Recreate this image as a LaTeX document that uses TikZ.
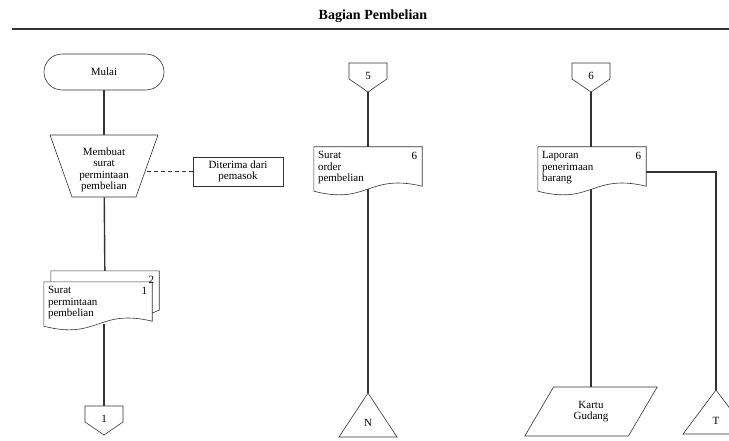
\documentclass[tikz,border=0pt]{standalone}
\usepackage{fontspec}
\setmainfont{Liberation Serif}
\usetikzlibrary{positioning, shapes.geometric, calc}

% outline of a document symbol around a named node
\newcommand{\docpath}[1]{(#1.north west) -- (#1.north east) -- ($(#1.south east)+(0,-3)$)
  .. controls ($(#1.south)+(0,-16)$) and ($(#1.south)+(0,16)$) .. ($(#1.south west)+(0,2)$) -- cycle}
% off-page connector: name, x, top y, label
\newcommand{\offpagesym}[4]{
  \coordinate (#1) at (#2,#3);
  \coordinate (#1-tip) at (#2,#3+29);
  \draw[outline] (#1) -- ++(19,0) -- ++(0,16) -- (#1-tip) -- ++(-19,-13) -- ++(0,-16) -- cycle;
  \node (#1-lbl) at (#2,#3+13) {#4};
}

\begin{document}
\begin{tikzpicture}[
        x=1pt, y=-1pt,
        font=\fontsize{11}{11.5}\selectfont,
        terminal/.style={draw, rectangle, rounded corners=18pt, minimum width=120pt, minimum height=36pt},
        manual/.style={draw, trapezium, trapezium stretches=true, shape border rotate=180,
            trapezium angle=71, minimum width=108pt, minimum height=62pt},
        note/.style={draw, rectangle, minimum width=90pt, minimum height=29pt, align=center, inner sep=1pt},
        doc/.style={rectangle, minimum width=108pt, minimum height=42pt, text width=100pt, inner sep=4pt, align=left},
        docno/.style={anchor=north east, inner sep=5pt},
        card/.style={draw, trapezium, trapezium stretches=true, trapezium left angle=58.5,
            trapezium right angle=121.5, minimum width=133pt, minimum height=49pt, align=center, inner sep=1pt},
        outline/.style={draw=black!80, line width=0.6pt},
        flow/.style={draw=black!80, line width=1.4pt}
    ]
    \useasboundingbox (0,0) rectangle (729,441);

    % judul
    \node[font=\bfseries\fontsize{14}{16}\selectfont] (judul) at (373,16) {Bagian Pembelian};
    \coordinate (garisA) at (12,29);
    \coordinate (garisB) at (729,29);
    \draw[line width=1.2pt, black!80] (garisA) -- (garisB);

    % kolom 1
    \node[terminal, outline] (mulai) at (104,72) {Mulai};
    \node[manual, outline] (buat) at (104,166) {};
    \node[align=center, inner sep=0pt] (buat-txt) at (104,170) {Membuat\\surat\\permintaan\\pembelian};
    \node[note, outline] (terima) at (238,171.5) {Diterima dari\\pemasok};
    \node[doc] (minta2) at (105,292) {};
    \node[docno] (minta2-no) at (minta2.north east) {2};
    \node[doc] (minta) at (98,303) {Surat\\permintaan\\pembelian};
    \node[docno] (minta-no) at (minta.north east) {1};
    \draw[outline] (minta.north -| minta2.west) -- (minta2.north west) -- (minta2.north east)
        -- ($(minta2.south east)+(0,-3)$) .. controls +(-3,2) .. (minta.east |- 0,313);
    \draw[outline] \docpath{minta};
    \offpagesym{c1}{104}{406}{1}

    % kolom 2
    \offpagesym{c5}{368}{63}{5}
    \node[doc] (order) at (368,168) {Surat\\order\\pembelian};
    \node[docno] (order-no) at (order.north east) {6};
    \draw[outline] \docpath{order};
    \coordinate (N) at (368,393);
    \draw[outline] (N) -- ++(29,44) -- ++(-58,0) -- cycle;
    \node (N-lbl) at (368,423) {N};

    % kolom 3
    \offpagesym{c6}{591}{63}{6}
    \node[doc] (laporan) at (592,168) {Laporan\\penerimaan\\barang};
    \node[docno] (laporan-no) at (laporan.north east) {6};
    \draw[outline] \docpath{laporan};
    \node[card, outline] (kartu) at (591,411.5) {Kartu\\Gudang};
    \coordinate (T) at (716,390);
    \draw[outline] (T) -- ++(33,44) -- ++(-66,0) -- cycle;
    \node (T-lbl) at (716,421) {T};

    % garis alir
    \draw[flow] (mulai) -- (buat);
    \draw[outline, line width=1.1pt, dash pattern=on 4pt off 3pt] (terima.west) -- (terima.west -| buat.east);
    \draw[flow] (buat) -- (minta2);
    \draw[flow] (c1 |- minta.south) -- (c1);
    \draw[flow] (c5-tip) -- (order);
    \draw[flow] (order) -- (N);
    \draw[flow] (c6-tip) -- (c6-tip |- laporan.north);
    \draw[flow] (c6-tip |- laporan.south) -- (c6-tip |- kartu.north);
    \draw[flow] ($(laporan.east)+(0,4)$) -| (T);

\end{tikzpicture}
\end{document}
